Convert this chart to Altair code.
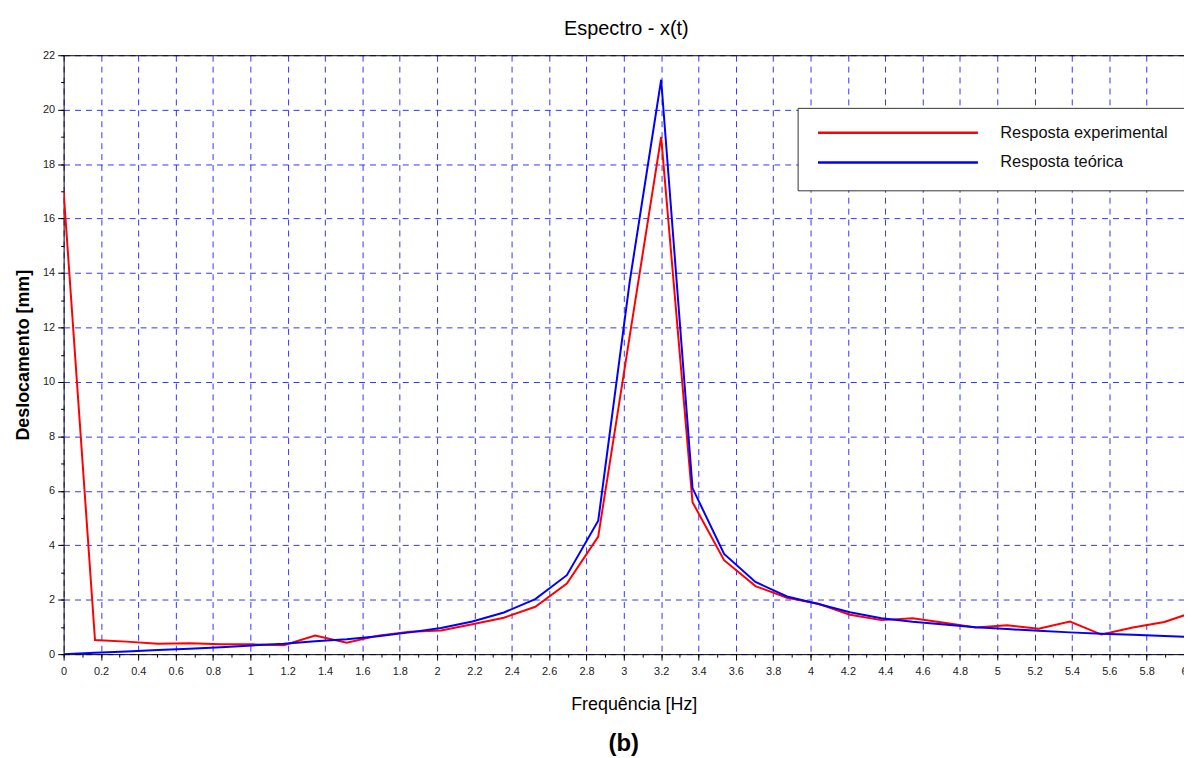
import altair as alt
import pandas as pd

# frequency bins [Hz]
freq = [0.0, 0.168, 0.337, 0.505, 0.674, 0.842, 1.011, 1.179, 1.347, 1.516,
        1.684, 1.853, 2.021, 2.189, 2.358, 2.526, 2.695, 2.863, 3.032, 3.200,
        3.368, 3.537, 3.705, 3.874, 4.042, 4.211, 4.379, 4.547, 4.716, 4.884,
        5.053, 5.221, 5.389, 5.558, 5.726, 5.895, 6.063]

# Resposta experimental [mm]
exp_vals = [17.0, 0.52, 0.46, 0.38, 0.40, 0.36, 0.36, 0.33, 0.68, 0.42,
            0.68, 0.82, 0.87, 1.10, 1.34, 1.74, 2.59, 4.32, 11.7, 19.0,
            5.58, 3.45, 2.50, 2.07, 1.85, 1.45, 1.25, 1.32, 1.15, 0.98,
            1.06, 0.93, 1.20, 0.72, 0.98, 1.18, 1.57]

# Resposta teórica [mm]
teo_vals = [0.0, 0.05, 0.10, 0.15, 0.20, 0.25, 0.32, 0.38, 0.47, 0.55,
            0.66, 0.80, 0.96, 1.20, 1.53, 2.02, 2.90, 4.90, 13.7, 21.1,
            6.10, 3.68, 2.65, 2.12, 1.84, 1.54, 1.32, 1.19, 1.09, 0.99,
            0.92, 0.86, 0.80, 0.75, 0.71, 0.67, 0.62]

series_names = ["Resposta experimental", "Resposta teórica"]
series_colors = ["#ff0000", "#0000ff"]

x_ticks = [0, 0.2, 0.4, 0.6, 0.8, 1, 1.2, 1.4, 1.6, 1.8, 2, 2.2, 2.4, 2.6, 2.8, 3,
           3.2, 3.4, 3.6, 3.8, 4, 4.2, 4.4, 4.6, 4.8, 5, 5.2, 5.4, 5.6, 5.8, 6]
x_minor = [round(i * 0.1, 1) for i in range(61)]
y_ticks = [0, 2, 4, 6, 8, 10, 12, 14, 16, 18, 20, 22]
y_minor = list(range(0, 23))

rows = []
for name, vals in zip(series_names, [exp_vals, teo_vals]):
    for f, v in zip(freq, vals):
        rows.append({"freq": f, "value": v, "series": name})
df = pd.DataFrame(rows)

FONT = "Liberation Sans"
xscale = alt.Scale(domain=[0, 6], nice=False, zero=False)
yscale = alt.Scale(domain=[0, 22], nice=False)

lines = alt.Chart(df).mark_line(strokeWidth=2, clip=True).encode(
    x=alt.X("freq:Q", scale=xscale, axis=alt.Axis(
        orient="bottom", values=x_ticks, format=".1~f", labelFlush=False,
        labelOverlap=False, title="Frequência [Hz]", titleFontSize=18,
        titleFontWeight="normal", titleX=574, titleY=56, titleBaseline="alphabetic",
        grid=True, gridColor="#0000ff", gridDash=[6, 5], gridOpacity=0.8,
        tickSize=6, labelPadding=5)),
    y=alt.Y("value:Q", scale=yscale, axis=alt.Axis(
        orient="left", values=y_ticks, format="d", title="Deslocamento [mm]",
        titleFontSize=18, titleFontWeight="bold", titleX=-35,
        titleBaseline="alphabetic", grid=True, gridColor="#0000ff",
        gridDash=[6, 5], gridOpacity=0.8, tickSize=6, labelPadding=3)),
    color=alt.Color("series:N", scale=alt.Scale(domain=series_names, range=series_colors),
                    legend=alt.Legend(
                        title=None, orient="none", legendX=739, legendY=53,
                        symbolType="stroke", symbolSize=25921, symbolStrokeWidth=2.5,
                        clipHeight=12, rowPadding=13, labelOffset=21,
                        labelFontSize=16.5, labelFont=FONT, labelColor="#111111",
                        labelLimit=400, padding=19, strokeColor="#333333",
                        fillColor="white", cornerRadius=0)),
)

top_axis = alt.Chart(df).mark_point(opacity=0, clip=True).encode(
    x=alt.X("freq:Q", scale=xscale, axis=alt.Axis(
        orient="top", labels=False, ticks=False, grid=False, domain=True,
        title="Espectro - x(t)", titleFontSize=20, titleFontWeight="normal",
        titleX=566, titleY=-21, titleBaseline="alphabetic")),
    y=alt.Y("value:Q", scale=yscale, axis=alt.Axis(
        orient="left", values=y_minor, labels=False, grid=False, domain=False,
        tickSize=3, title=None)),
)

minor_x = alt.Chart(df).mark_point(opacity=0, clip=True).encode(
    x=alt.X("freq:Q", scale=xscale, axis=alt.Axis(
        orient="bottom", values=x_minor, labels=False, grid=False, domain=False,
        tickSize=3, title=None)),
    y=alt.Y("value:Q", scale=yscale, axis=None),
)

chart = alt.layer(lines, top_axis, minor_x).resolve_axis(
    x="independent", y="independent"
).properties(
    width=1128, height=603,
    background="white",
    autosize=alt.AutoSizeParams(type="none"),
    padding={"left": 56, "top": 45, "right": 0, "bottom": 100},
    title=alt.TitleParams("(b)", orient="bottom", anchor="middle", frame="group",
                          offset=19, fontSize=24,
                          fontWeight="bold", font=FONT, color="black"),
).configure_view(stroke=None).configure_axis(
    labelFont=FONT, labelFontSize=11, labelColor="#222222",
    titleFont=FONT, titleColor="black",
    domainColor="black", domainWidth=1, tickColor="black", tickWidth=1,
)

chart.save("out.html", embed_options={"renderer": "svg", "actions": False})
